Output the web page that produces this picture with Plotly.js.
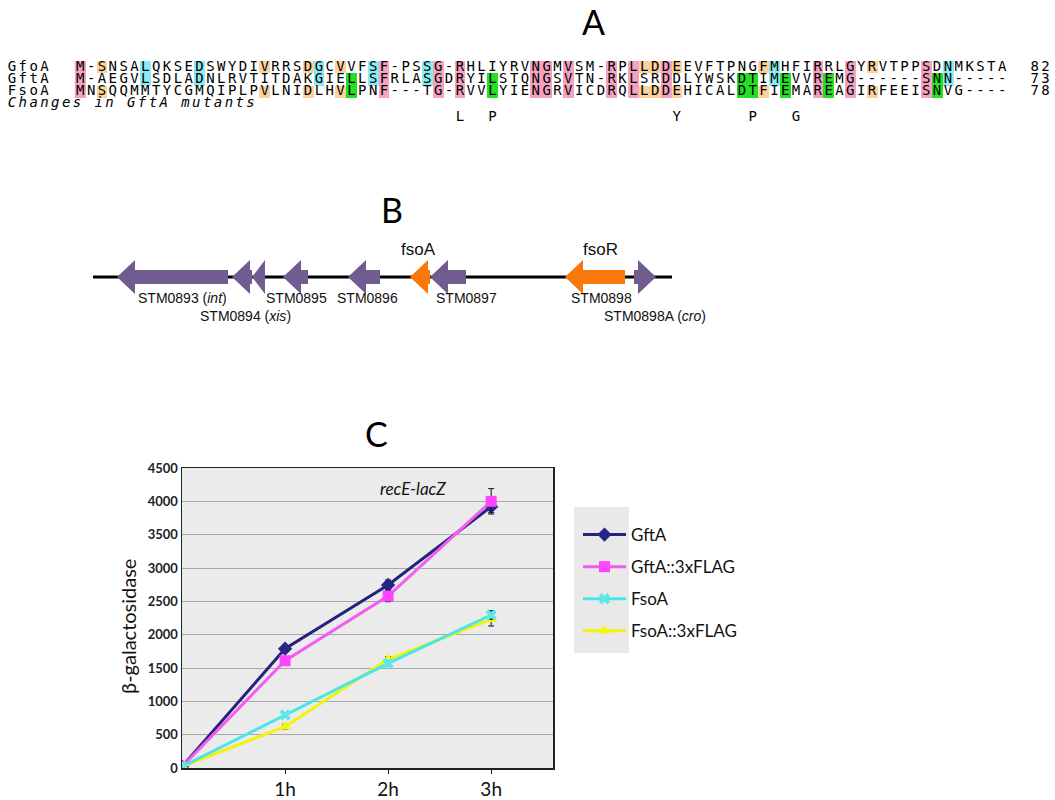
<!DOCTYPE html>
<html><head><meta charset="utf-8">
<script src="https://cdn.plot.ly/plotly-3.0.1.min.js"></script>
<style>html,body{margin:0;padding:0;background:#fff}</style>
</head><body><div id="chart" style="width:1055px;height:800px"></div>
<script>
// ---------- Panel A: alignment ----------
const seqNames = ["GfoA", "GftA", "FsoA"];
const seqGfoA = "M-SNSALQKSEDSWYDIVRRSDGCVVFSF-PSSG-RHLIYRVNGMVSM-RPLLDDEEVFTPNGFMHFIRRLGYRVTPPSDNMKSTA";
const seqGftA = "M-AEGVLSDLADNLRVTITDAKGIELLSFRLASGDRYILSTQNGSVTN-RKLSRDDLYWSKDTIMEVVREMG------SNN-----";
const seqFsoA = "MNSQQMMTYCGMQIPLPVLNIDLHVLPNF---TG-RVVLYIENGRVICDRQLLDDEHICALDTFIEMAREAGIRFEEISNVG----";
const seqLengths = [82, 73, 78];
const hlGfoA = {pink:[1,29,34,36,43,44,46,50,52,55,69,72,79], orange:[3,18,22,25,53,54,56,64,74], cyan:[7,12,23,28,33,65,81], green:[]};
const hlGftA = {pink:[1,29,34,36,43,44,46,50,52,55,69,72,79], orange:[], cyan:[7,12,23,28,33,65,81], green:[26,39,62,63,66,70,80]};
const hlFsoA = {pink:[1,29,34,36,43,44,46,50,52,55,69,72,79], orange:[3,18,22,25,53,54,56,64,74], cyan:[], green:[26,39,62,63,66,70,80]};
const mutantLabel = "Changes in GftA mutants";
const mutantCols = [36, 39, 56, 63, 67];
const mutantAA = ["L", "P", "Y", "P", "G"];

// ---------- Panel B: gene map ----------
const geneTail = [228, 252, 265, 308, 380, 430, 466, 625, 634];
const geneTip  = [117, 232, 252, 283, 348, 410, 430, 565, 656];
const geneKind = ["other","other","other","other","other","fso","other","fso","other"];
const mapStart = 93, mapEnd = 672;
const geneLabels = ["STM0893 (<i>int</i>)", "STM0894 (<i>xis</i>)", "STM0895", "STM0896", "STM0897", "STM0898", "STM0898A (<i>cro</i>)"];
const geneLabelX = [182, 245, 296, 367, 466, 601, 655];
const geneLabelRow = [1, 2, 1, 1, 1, 1, 2];
const fsoLabels = ["fsoA", "fsoR"];
const fsoLabelX = [418, 600];

// ---------- Panel C: beta-galactosidase ----------
const hours = [0, 1, 2, 3];
const hourTicks = ["1h", "2h", "3h"];
const yTickVals = [0, 500, 1000, 1500, 2000, 2500, 3000, 3500, 4000, 4500];
const gftA      = [20, 1790, 2745, 3920];
const gftAErr   = [10, 35, 75, 90];
const gftAFlag  = [20, 1610, 2580, 4000];
const gftAFlagErr = [10, 40, 85, 190];
const fsoA      = [20, 795, 1570, 2295];
const fsoAErr   = [10, 35, 40, 65];
const fsoAFlag  = [20, 620, 1630, 2230];
const fsoAFlagErr = [10, 35, 40, 100];

const W = 1055, H = 800;
const px = v => v / W, py = v => 1 - v / H;

const colors = {pink:'#f5a2c1', orange:'#fbd29b', cyan:'#8aebf3', green:'#25df25'};
const classVal = {pink:1, orange:2, cyan:3, green:4};
const seqs = [seqGfoA, seqGftA, seqFsoA];
const hls = [hlGfoA, hlGftA, hlFsoA];
const nCol = seqGfoA.length;
const cols = Array.from({length:nCol}, (_, i) => i + 1);
const monoFont = {family:'DejaVu Sans Mono', size:14, color:'#000'};
const nameCol = -5.3;     // grid column where row names start (left of the sequence)
const numCol = 89;        // grid column where lengths start
// grid geometry: column 1 centred at 79px, pitch 10.86px
const colPx = c => 79 + (c - 1) * 10.86;
const gridLo = -6.4, gridHi = 90.8;

const z = seqs.map((s, r) => {
  const row = new Array(nCol).fill(null);
  for (const k in hls[r]) hls[r][k].forEach(c => row[c-1] = classVal[k]);
  return row;
});
const traces = [];
traces.push({
  type:'heatmap', x: cols, y:[0,1,2], z: z, xaxis:'x2', yaxis:'y2',
  zmin:0.5, zmax:4.5, showscale:false, hoverinfo:'skip',
  colorscale:[[0,colors.pink],[0.25,colors.pink],[0.25,colors.orange],[0.5,colors.orange],
              [0.5,colors.cyan],[0.75,colors.cyan],[0.75,colors.green],[1,colors.green]]
});
const gridText = (str, startCol, row, style) => {
  const ch = str.split('');
  traces.push({
    type:'scatter', mode:'text', x: ch.map((_, i) => startCol + i), y: ch.map(() => row), text: ch,
    xaxis:'x2', yaxis:'y2', showlegend:false, hoverinfo:'skip', cliponaxis:false,
    textfont: Object.assign({}, monoFont, style ? {style} : {})
  });
};
seqs.forEach((s, r) => {
  gridText(s, 1, r);
  gridText(seqNames[r], nameCol, r);
  gridText(String(seqLengths[r]), numCol, r);
});
gridText(mutantLabel, nameCol, 3, 'italic');
traces.push({
  type:'scatter', mode:'text', x: mutantCols, y: mutantCols.map(() => 4.1), text: mutantAA,
  xaxis:'x2', yaxis:'y2', showlegend:false, hoverinfo:'skip', cliponaxis:false, textfont: monoFont
});

// gene map
traces.push({type:'scatter', mode:'lines', x:[mapStart, mapEnd], y:[0,0], xaxis:'x3', yaxis:'y3',
  line:{color:'#000', width:3}, showlegend:false, hoverinfo:'skip'});
const HH = 17, BH = 7, HL = 18;
geneTail.forEach((t, i) => {
  const tip = geneTip[i];
  const dir = Math.sign(t - tip);
  const hl = Math.min(HL, Math.abs(t - tip)) * dir;
  const hb = tip + hl;
  const c = geneKind[i] === 'fso' ? '#f7790b' : '#705c8e';
  traces.push({type:'scatter', mode:'lines', fill:'toself',
    x:[t, hb, hb, tip, hb, hb, t, t], y:[BH, BH, HH, 0, -HH, -BH, -BH, BH],
    xaxis:'x3', yaxis:'y3', line:{width:0, color:c}, fillcolor:c, showlegend:false, hoverinfo:'skip'});
});

// chart C
const mk = (name, y, err, color, lineColor, symbol, size, rank) => ({
  type:'scatter', mode:'lines+markers', name, x: hours, y, legendgroup:name, legendrank:rank,
  line:{color: lineColor, width:3}, marker:{color, symbol, size, line:{width:0}},
  error_y:{type:'data', array: err, visible:true, color:'#111', thickness:1, width:3}
});
traces.push(mk('GftA', gftA, gftAErr, '#25258a', '#23237e', 'diamond', 11, 1));
traces.push(mk('GftA::3xFLAG', gftAFlag, gftAFlagErr, '#ff44ff', '#f35cf0', 'square', 11, 2));
traces.push(mk('FsoA::3xFLAG', fsoAFlag, fsoAFlagErr, '#f8f800', '#f2f20a', 'triangle-up', 11, 4));
traces.push(mk('FsoA', fsoA, fsoAErr, '#5ae8e8', '#4ae6e6', 'x', 10, 3));

const annotations = [];
const paperAnn = (t, x, y, font, extra) => annotations.push(Object.assign({text:t, x:px(x), y:py(y),
  xref:'paper', yref:'paper', xanchor:'center', yanchor:'middle', showarrow:false, font}, extra || {}));
const bigFont = {family:'Lato', size:34, color:'#000'};
paperAnn('A', 593, 22, bigFont); paperAnn('B', 392, 210, bigFont); paperAnn('C', 376, 433, bigFont);
geneLabels.forEach((t, i) => annotations.push({text:t, x:geneLabelX[i], y: geneLabelRow[i]===1 ? -21 : -39,
  xref:'x3', yref:'y3', xanchor:'center', yanchor:'middle', showarrow:false,
  font:{family:'Liberation Sans', size:14, color:'#111'}}));
fsoLabels.forEach((t, i) => annotations.push({text:t, x:fsoLabelX[i], y:27, xref:'x3', yref:'y3',
  xanchor:'center', yanchor:'middle', showarrow:false, font:{family:'Liberation Sans', size:17, color:'#111'}}));
paperAnn('<i>recE-lacZ</i>', 413, 488, {family:'Lato', size:17, color:'#111'});
paperAnn('β-galactosidase', 128, 627, {family:'Lato', size:20, color:'#111'}, {textangle:-90});

const layout = {
  width: W, height: H, margin:{l:0, r:0, t:0, b:0}, paper_bgcolor:'#fff', plot_bgcolor:'rgba(0,0,0,0)',
  showlegend:true,
  legend:{x:px(578), y:py(517), xanchor:'left', yanchor:'top', bgcolor:'rgba(0,0,0,0)',
    font:{family:'Lato', size:17, color:'#111'}, tracegroupgap:7, itemwidth:43},
  xaxis:{domain:[px(182), px(553)], range:[0, 3.6], tickvals:[1,2,3], ticktext:hourTicks,
    showgrid:false, zeroline:false, showline:true, mirror:true, linecolor:'#222', linewidth:1.5,
    ticks:'outside', ticklen:4, tickcolor:'#222', tickfont:{family:'Lato', size:19, color:'#111'}, anchor:'y'},
  yaxis:{domain:[py(768), py(468)], range:[0, 4500], tickvals:yTickVals, ticktext:yTickVals.map(v => '<b>' + v + '</b>'),
    showgrid:true, gridcolor:'#a8a8a8',
    zeroline:false, showline:true, mirror:true, linecolor:'#222', linewidth:1.5, ticks:'',
    tickfont:{family:'Lato', size:13, color:'#222'}, anchor:'x'},
  xaxis2:{domain:[px(colPx(gridLo)), px(colPx(gridHi))], range:[gridLo, gridHi], visible:false, fixedrange:true, anchor:'y2'},
  yaxis2:{domain:[py(122), py(61)], range:[4.5, -0.5], visible:false, fixedrange:true, anchor:'x2'},
  xaxis3:{domain:[0, 1], range:[0, W], visible:false, fixedrange:true, anchor:'y3'},
  yaxis3:{domain:[py(327), py(227)], range:[-50, 50], visible:false, fixedrange:true, anchor:'x3'},
  shapes:[
    {type:'rect', xref:'paper', yref:'paper', x0:px(574), x1:px(629), y0:py(653), y1:py(507),
      fillcolor:'#e9e9e9', line:{width:0}, layer:'below'},
    {type:'rect', xref:'x', yref:'y', x0:0, x1:3.6, y0:0, y1:4500,
      fillcolor:'#ebebeb', line:{width:0}, layer:'below'}
  ],
  annotations
};
Plotly.newPlot('chart', traces, layout, {staticPlot:true, displayModeBar:false});
</script>
</body></html>
